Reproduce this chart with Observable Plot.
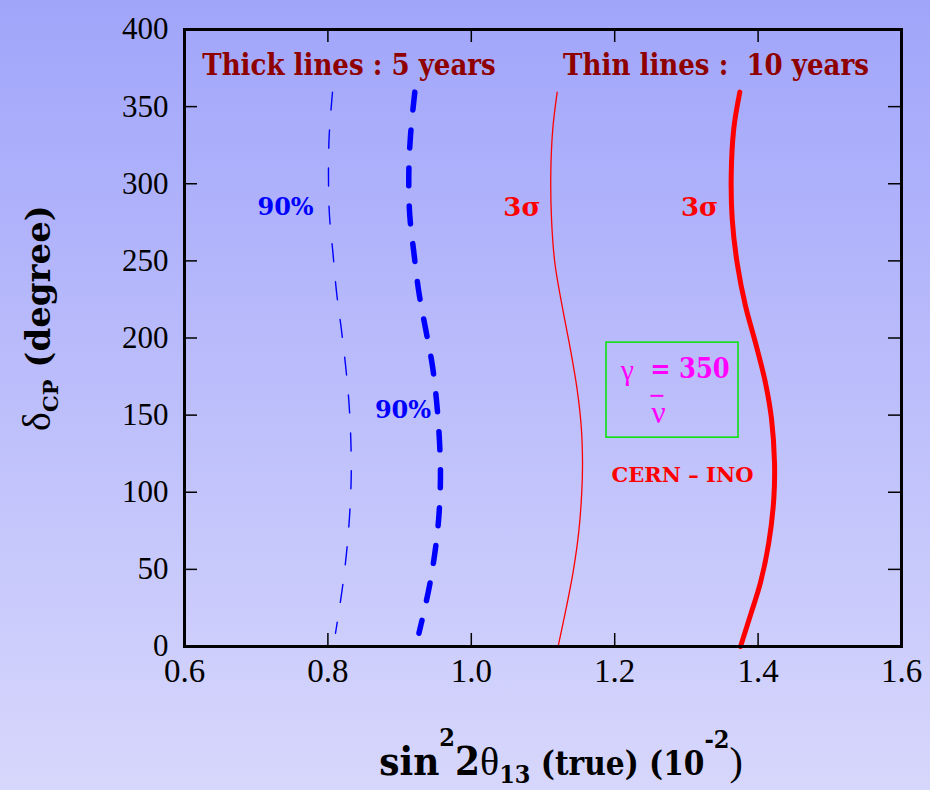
<!DOCTYPE html>
<html><head><meta charset="utf-8">
<script src="https://cdn.jsdelivr.net/npm/d3@7"></script>
<script src="https://cdn.jsdelivr.net/npm/@observablehq/plot@0.6"></script>
<style>
html,body{margin:0;padding:0;}
#chart{width:930px;height:790px;background:linear-gradient(to bottom,#a1a5fa,#d7d7fc);}
#chart svg{display:block;}
</style></head><body><div id="chart"></div>
<script>
// ---- axis ticks ----
const xTicks = [0.6, 0.8, 1.0, 1.2, 1.4, 1.6];
const yTicks = [0, 50, 100, 150, 200, 250, 300, 350, 400];

// ---- curves (x = sin^2 2θ13 in 1e-2, y = δCP in degrees) ----
const blue10X = [0.8064,0.8018,0.8008,0.8022,0.8069,0.8120,0.8186,0.8245,0.8292,0.8320,0.8325,0.8301,0.8259,0.8199,0.8106];
const blue10Y = [359.4,331.2,305.3,279.4,255.8,229.9,206.3,182.8,159.3,133.4,109.8,83.9,60.4,36.9,8.6];
const blue5X  = [0.9212,0.9152,0.9128,0.9142,0.9198,0.9268,0.9361,0.9455,0.9515,0.9556,0.9570,0.9547,0.9491,0.9407,0.9270];
const blue5Y  = [359.4,331.2,305.3,279.4,255.8,229.9,206.3,182.8,159.3,133.4,109.8,83.9,60.4,36.9,8.6];
const red10X  = [1.1198,1.1137,1.1109,1.1119,1.1165,1.1268,1.1384,1.1477,1.1533,1.1551,1.1541,1.1499,1.1421,1.1314,1.1212];
const red10Y  = [359.4,335.8,307.6,277.0,248.8,220.5,192.3,166.4,142.8,119.3,100.4,74.5,48.6,22.7,0.3];
const red5X   = [1.3745,1.3661,1.3625,1.3639,1.3708,1.3824,1.3964,1.4103,1.4187,1.4229,1.4219,1.4149,1.4033,1.3894,1.3755];
const red5Y   = [359.4,335.8,305.3,277.1,248.6,220.8,196.8,170.9,147.6,119.1,95.8,67.3,41.4,20.4,0];

// ---- annotations (text, data position) ----
const headerTexts = ["Thick lines : 5 years", "Thin lines :  10 years"];
const headerX = [0.8294, 1.3413];
const headerY = [376.5, 376.5];
const cl90Texts = ["90%", "90%"];
const cl90X = [0.7409, 0.9047];
const cl90Y = [284.6, 153.0];
const sigTexts = ["3σ", "3σ"];
const sigX = [1.0707, 1.3183];
const sigY = [284.6, 284.6];
const gammaText = ["γ"], gammaX = [1.2178], gammaY = [179.0];
const gammaValText = ["= 350"], gammaValX = [1.305], gammaValY = [179.5];
const nuText = ["ν"], nuX = [1.261], nuY = [151.5];
const nuBarX = [1.2505, 1.2685], nuBarY = [162.5];
const expText = ["CERN – INO"], expX = [1.2946], expY = [111];
const boxX = [1.1886, 1.3727], boxY = [135.4, 197.0];

const yTitle = ["δ", "CP", " (degree)"];
const xTitle = ["sin", "2", "2", "θ", "13", " (true) (10", "-2", ")"];

const toRows = (xs, ys) => xs.map((x, i) => ({x, y: ys[i]}));
const txt = (texts, xs, ys) => texts.map((t, i) => ({t, x: xs[i], y: ys[i]}));

const W = 930, H = 790, mL = 184, mR = 29, mT = 29, mB = 144;
const innerW = W - mL - mR, innerH = H - mT - mB, tk = 13;
const serif = "Liberation Serif";
const boldSerif = "DejaVu Serif";
const condSerif = "DejaVu Serif Condensed, DejaVu Serif";

const svg = Plot.plot({
  width: W, height: H,
  marginLeft: mL, marginRight: mR, marginTop: mT, marginBottom: mB,
  x: {domain: [0.6, 1.6]},
  y: {domain: [0, 400]},
  style: {background: "transparent", fontFamily: serif, color: "black"},
  marks: [
    Plot.rect([{x1: boxX[0], x2: boxX[1], y1: boxY[0], y2: boxY[1]}], {x1: "x1", x2: "x2", y1: "y1", y2: "y2", fill: "none", stroke: "#00e400", strokeWidth: 1.5}),
    Plot.line(toRows(blue10X, blue10Y), {x: "x", y: "y", stroke: "#0000ff", strokeWidth: 1.4, strokeDasharray: "18,20", curve: "catmull-rom"}),
    Plot.line(toRows(blue5X, blue5Y), {x: "x", y: "y", stroke: "#0000ff", strokeWidth: 5.5, strokeDasharray: "18,20", curve: "catmull-rom"}),
    Plot.line(toRows(red10X, red10Y), {x: "x", y: "y", stroke: "#ff0000", strokeWidth: 1.3, curve: "catmull-rom"}),
    Plot.line(toRows(red5X, red5Y), {x: "x", y: "y", stroke: "#ff0000", strokeWidth: 5, curve: "catmull-rom"}),
    Plot.text(txt(headerTexts, headerX, headerY), {x: "x", y: "y", text: "t", fill: "#8f0000", fontSize: 29, fontWeight: "bold", fontFamily: condSerif}),
    Plot.text(txt(cl90Texts, cl90X, cl90Y), {x: "x", y: "y", text: "t", fill: "#0000ff", fontSize: 24, fontWeight: "bold", fontFamily: boldSerif}),
    Plot.text(txt(sigTexts, sigX, sigY), {x: "x", y: "y", text: "t", fill: "#ff0000", fontSize: 26, fontWeight: "bold", fontFamily: boldSerif}),
    Plot.text(txt(gammaText, gammaX, gammaY), {x: "x", y: "y", text: "t", fill: "#ff00ff", fontSize: 30, fontFamily: serif}),
    Plot.text(txt(gammaValText, gammaValX, gammaValY), {x: "x", y: "y", text: "t", fill: "#ff00ff", fontSize: 27, fontWeight: "bold", fontFamily: condSerif}),
    Plot.text(txt(nuText, nuX, nuY), {x: "x", y: "y", text: "t", fill: "#ff00ff", fontSize: 32, fontFamily: serif}),
    Plot.ruleY(nuBarY, {y: d => d, x1: nuBarX[0], x2: nuBarX[1], stroke: "#ff00ff", strokeWidth: 2}),
    Plot.text(txt(expText, expX, expY), {x: "x", y: "y", text: "t", fill: "#ff0000", fontSize: 21, fontWeight: "bold", fontFamily: boldSerif}),
    // inward ticks on all four sides
    Plot.tickX(xTicks.slice(1, -1), {x: d => d, stroke: "black", strokeWidth: 1.5, insetTop: innerH - tk}),
    Plot.tickX(xTicks.slice(1, -1), {x: d => d, stroke: "black", strokeWidth: 1.5, insetBottom: innerH - tk}),
    Plot.tickY(yTicks.slice(1, -1), {y: d => d, stroke: "black", strokeWidth: 1.5, insetRight: innerW - tk}),
    Plot.tickY(yTicks.slice(1, -1), {y: d => d, stroke: "black", strokeWidth: 1.5, insetLeft: innerW - tk}),
    Plot.axisX(xTicks, {anchor: "bottom", tickSize: 0, tickPadding: 12, tickFormat: d => d.toFixed(1), fontSize: 33, fontFamily: serif, label: null}),
    Plot.axisY(yTicks, {anchor: "left", tickSize: 0, tickPadding: 16, tickFormat: d => String(d), fontSize: 31, fontFamily: serif, label: null}),
    Plot.frame({stroke: "black", strokeWidth: 3})
  ]
});

document.getElementById("chart").appendChild(svg);

// axis titles with sub/superscripts
const s = d3.select(svg);
const yt = s.append("text")
  .attr("transform", "translate(50,318) rotate(-90)")
  .attr("text-anchor", "middle")
  .attr("font-family", boldSerif)
  .attr("font-weight", "bold")
  .attr("font-size", 34)
  .attr("fill", "black");
yt.append("tspan").attr("font-weight", "normal").attr("font-family", serif).attr("font-size", 40).text(yTitle[0]);
yt.append("tspan").attr("font-size", 21).attr("dy", 8).text(yTitle[1]);
yt.append("tspan").attr("dy", -8).text(yTitle[2]);

const xt = s.append("text")
  .attr("x", 561).attr("y", 775)
  .attr("text-anchor", "middle")
  .attr("font-family", condSerif)
  .attr("font-weight", "bold")
  .attr("font-size", 40)
  .attr("fill", "black");
xt.append("tspan").text(xTitle[0]);
xt.append("tspan").attr("font-size", 25).attr("dy", -29).text(xTitle[1]);
xt.append("tspan").attr("dy", 29).text(xTitle[2]);
xt.append("tspan").attr("font-weight", "normal").attr("font-family", serif).text(xTitle[3]);
xt.append("tspan").attr("font-size", 25).attr("dy", 8).text(xTitle[4]);
xt.append("tspan").attr("font-size", 33).attr("dy", -8).text(xTitle[5]);
xt.append("tspan").attr("font-size", 25).attr("dy", -27).text(xTitle[6]);
xt.append("tspan").attr("font-size", 40).attr("dy", 27).attr("font-weight", "normal").attr("font-family", serif).text(xTitle[7]);
</script>
</body></html>
